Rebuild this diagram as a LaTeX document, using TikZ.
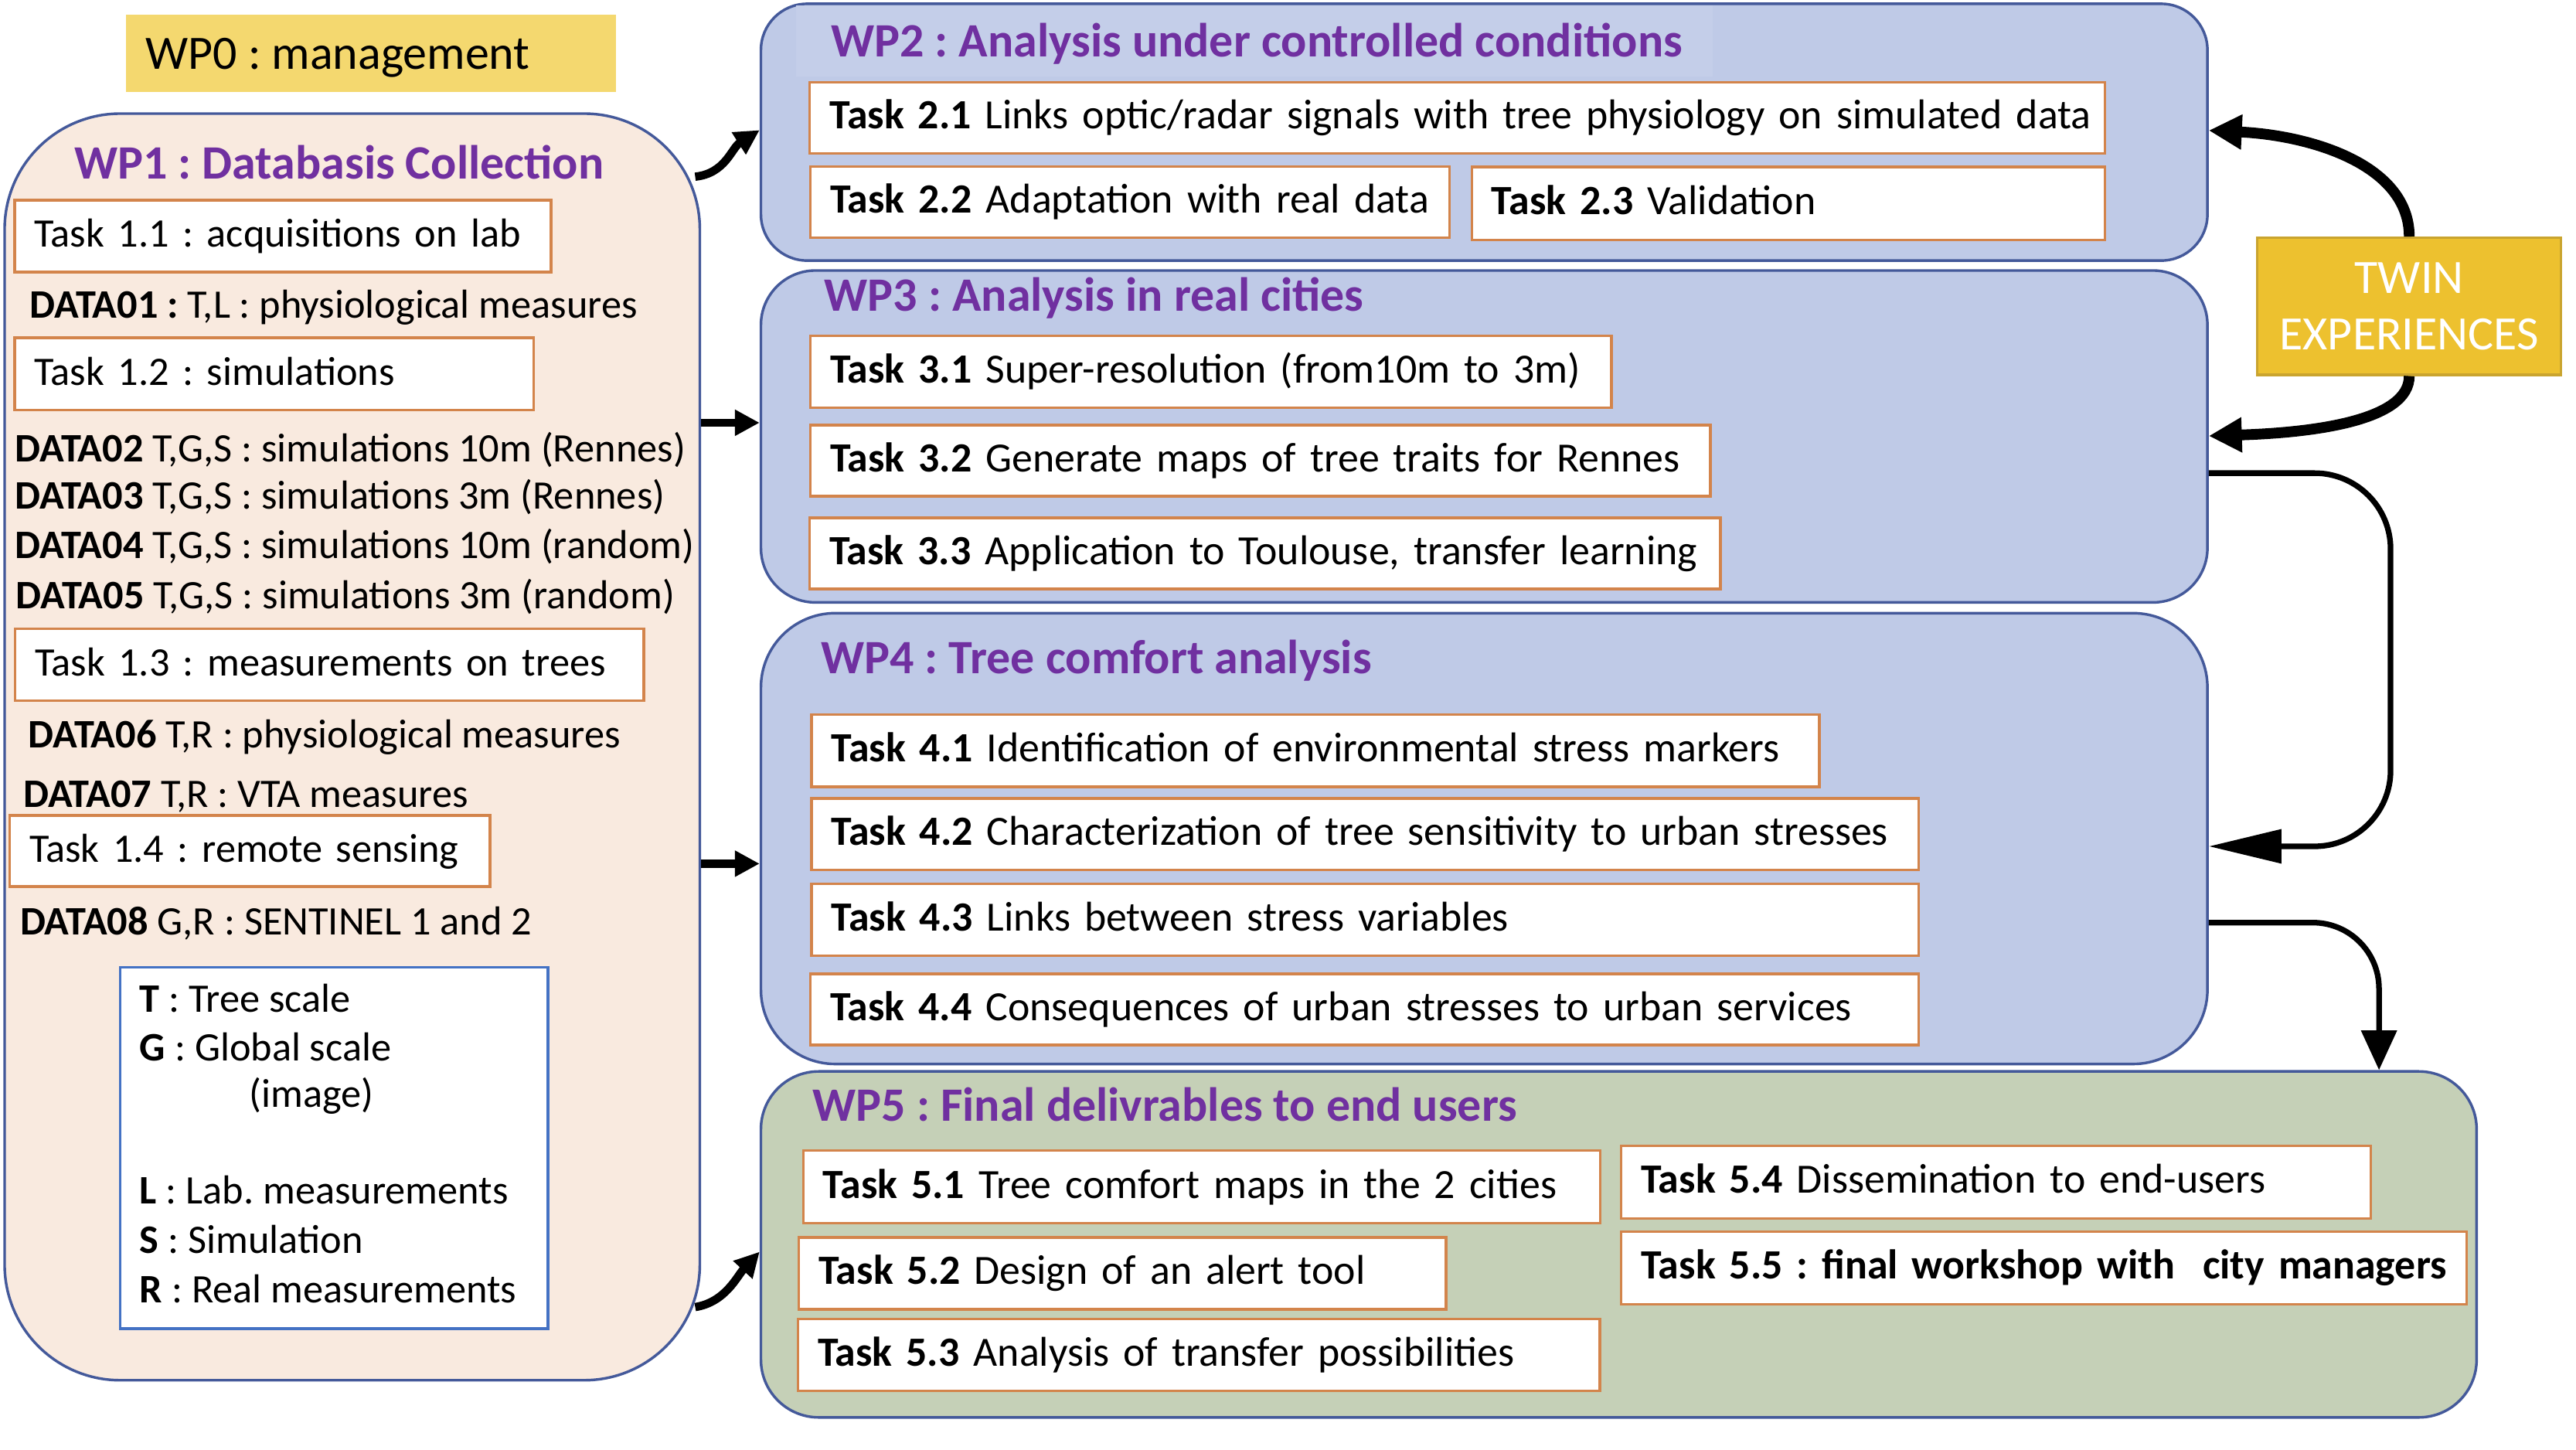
\documentclass[tikz,border=0pt]{standalone}
\usepackage{fontspec}
\setmainfont{Carlito}
\usetikzlibrary{arrows.meta,calc}
\definecolor{wpborder}{HTML}{44599A}
\definecolor{peach}{HTML}{F9EADF}
\definecolor{wpblue}{HTML}{BFCAE7}
\definecolor{wpblueL}{HTML}{C4CEE9}
\definecolor{wpgreen}{HTML}{C5D0B7}
\definecolor{wptitle}{HTML}{7030A0}
\definecolor{taskor}{HTML}{D3844B}
\definecolor{goldA}{HTML}{F4D86F}
\definecolor{goldB}{HTML}{EDC12F}
\definecolor{goldline}{HTML}{C9A42F}
\definecolor{legblue}{HTML}{4472C4}
\newcommand\tfont{\fontsize{24.5pt}{30pt}\selectfont}
\newcommand\ufont{\fontsize{25.2pt}{30pt}\selectfont}
\newcommand\hfont{\fontsize{29pt}{34pt}\selectfont}
\frenchspacing
\begin{document}
\begin{tikzpicture}[x=1pt,y=-1pt,
  wpbox/.style={draw=wpborder, line width=1.6pt, anchor=north west, inner sep=0pt},
  taskbox/.style 2 args={draw=taskor, fill=white, line width=1.6pt, anchor=north west,
     inner xsep=12pt, inner ysep=0pt, align=left, font=\tfont,
     text height=18.5pt, text depth=5pt, text width=#1, minimum height=#2,
     execute at begin node={\hbox\bgroup}, execute at end node={\egroup}},
  taskboxB/.style 2 args={taskbox={#1}{#2}, font=\ufont},
  txt/.style={anchor=base west, inner sep=0pt, font=\tfont},
  ttl/.style={anchor=base west, inner sep=0pt, font=\hfont\bfseries, text=wptitle},
  wparrow/.style={line width=5pt, -{Triangle[length=15pt,width=15pt]}},
  twinarrow/.style={line width=6.5pt, -{Triangle[length=20pt,width=20pt]}},
  flowA/.style={line width=3.4pt, rounded corners=46pt, -{Triangle[length=44pt,width=20pt]}},
  flowB/.style={line width=3.4pt, rounded corners=40pt, -{Triangle[length=24pt,width=21pt]}}
]
\useasboundingbox (0,0) rectangle (1560,877.6);

% ---------- WP0 ----------
\node[fill=goldA, anchor=north west, minimum width=296.6pt, minimum height=46.9pt, inner sep=0pt] (wp0) at (76,8.6) {};
\node[anchor=base west, inner sep=0pt, font=\hfont] (wp0t) at (88,42.1) {WP0 : management};

% ---------- WP boxes ----------
\node[wpbox, fill=peach, rounded corners=70pt, minimum width=421pt, minimum height=767pt] (wp1) at (2,68) {};
\node[wpbox, fill=wpblue, rounded corners=28pt, minimum width=876pt, minimum height=155.5pt] (wp2) at (460,1.5) {};
\node[wpbox, fill=wpblue, rounded corners=33pt, minimum width=876pt, minimum height=201pt] (wp3) at (460,163) {};
\node[wpbox, fill=wpblue, rounded corners=45pt, minimum width=876pt, minimum height=273pt] (wp4) at (460,370.5) {};
\node[wpbox, fill=wpgreen, rounded corners=35pt, minimum width=1039pt, minimum height=209.5pt] (wp5) at (460,648) {};

% ---------- TWIN ----------
\node[draw=goldline, fill=goldB, line width=1.5pt, minimum width=184pt, minimum height=83pt,
      inner sep=0pt, align=center, font=\hfont, text=white] (twin) at (1459,185.5) {TWIN\\EXPERIENCES};

% ---------- titles ----------
\node[ttl] (wp1t) at (44.8,108.4) {WP1 : Databasis Collection};
\node[fill=wpblueL, anchor=north west, minimum width=555pt, minimum height=43pt, inner sep=0pt] (wp2bg) at (482,3) {};
\node[ttl] (wp2t) at (503,34.6) {WP2 : Analysis under controlled conditions};
\node[ttl] (wp3t) at (499,188.6) {WP3 : Analysis in real cities};
\node[ttl] (wp4t) at (497,408) {WP4 : Tree comfort analysis};
\node[ttl] (wp5t) at (492,678.8) {WP5 : Final delivrables to end users};

% ---------- WP1 content ----------
\node[taskbox={301pt}{43.6pt}] (t11) at (8,120.4) {Task 1.1 : acquisitions on lab};
\node[txt] (d01) at (17.9,192.5) {\textbf{DATA01 :} T,L : physiological measures};
\node[taskbox={290.4pt}{43.8pt}] (t12) at (8,203.7) {Task 1.2 : simulations};
\node[txt] (d02) at (9,279.5) {\textbf{DATA02} T,G,S : simulations 10m (Rennes)};
\node[txt] (d03) at (9,308.4) {\textbf{DATA03} T,G,S : simulations 3m (Rennes)};
\node[txt] (d04) at (9,338.3) {\textbf{DATA04} T,G,S : simulations 10m (random)};
\node[txt] (d05) at (9.5,368.6) {\textbf{DATA05} T,G,S : simulations 3m (random)};
\node[taskbox={356.7pt}{43.6pt}] (t13) at (8.3,380) {Task 1.3 : measurements on trees};
\node[txt] (d06) at (17,453) {\textbf{DATA06} T,R : physiological measures};
\node[txt] (d07) at (14,488.7) {\textbf{DATA07} T,R : VTA measures};
\node[taskbox={267pt}{43pt}] (t14) at (5,493) {Task 1.4 : remote sensing};
\node[txt] (d08) at (12,566) {\textbf{DATA08} G,R : SENTINEL 1 and 2};

% legend
\node[draw=legblue, fill=white, line width=1.6pt, anchor=north west, minimum width=259pt, minimum height=218.7pt, inner sep=0pt] (leg) at (72,585) {};
\node[txt] (lgT) at (84.5,613) {\textbf{T} : Tree scale};
\node[txt] (lgG) at (84.5,642.3) {\textbf{G} : Global scale};
\node[txt] (lgI) at (150.7,670.4) {(image)};
\node[txt] (lgL) at (84.5,729.2) {\textbf{L} : Lab. measurements};
\node[txt] (lgS) at (84.5,758.8) {\textbf{S} : Simulation};
\node[txt] (lgR) at (84.5,788.7) {\textbf{R} : Real measurements};

% ---------- WP2 tasks ----------
\node[taskboxB={760.4pt}{43pt}] (t21) at (489.6,49) {\textbf{Task 2.1} Links optic/radar signals with tree physiology on simulated data};
\node[taskboxB={363pt}{43pt}] (t22) at (490,100) {\textbf{Task 2.2} Adaptation with real data};
\node[taskboxB={359.5pt}{44.2pt}] (t23) at (890.5,100.3) {\textbf{Task 2.3} Validation};

% ---------- WP3 tasks ----------
\node[taskboxB={461pt}{43.5pt}] (t31) at (490,202.5) {\textbf{Task 3.1} Super-resolution (from10m to 3m)};
\node[taskboxB={521pt}{43pt}] (t32) at (490,256.7) {\textbf{Task 3.2} Generate maps of tree traits for Rennes};
\node[taskboxB={527.5pt}{43pt}] (t33) at (489.5,312.8) {\textbf{Task 3.3} Application to Toulouse, transfer learning};

% ---------- WP4 tasks ----------
\node[taskboxB={586.4pt}{43.6pt}] (t41) at (490.6,432) {\textbf{Task 4.1} Identification of environmental stress markers};
\node[taskboxB={646.4pt}{43.3pt}] (t42) at (490.6,482.7) {\textbf{Task 4.2} Characterization of tree sensitivity to urban stresses};
\node[taskboxB={646.4pt}{43.6pt}] (t43) at (490.6,534.4) {\textbf{Task 4.3} Links between stress variables};
\node[taskboxB={647pt}{43pt}] (t44) at (490,589) {\textbf{Task 4.4} Consequences of urban stresses to urban services};

% ---------- WP5 tasks ----------
\node[taskboxB={458.7pt}{44pt}] (t51) at (485.6,696) {\textbf{Task 5.1} Tree comfort maps in the 2 cities};
\node[taskboxB={368pt}{43.5pt}] (t52) at (483,748.5) {\textbf{Task 5.2} Design of an alert tool};
\node[taskboxB={461.5pt}{43.5pt}] (t53) at (482.5,798) {\textbf{Task 5.3} Analysis of transfer possibilities};
\node[taskboxB={430pt}{44pt}] (t54) at (981,693) {\textbf{Task 5.4} Dissemination to end-users};
\node[taskboxB={488pt}{44pt}] (t55) at (981,745) {\textbf{Task 5.5 : final workshop with\ \ city managers}};

% ---------- connectors ----------
\draw[wparrow] ($(wp1.east |- 0,107)+(-3.6,0)$) .. controls (439.4,105) and (442.9,89.7) .. (wp2.west |- 0,78.8);
\draw[wparrow] (wp1.east |- 0,256) -- (wp3.west |- 0,256);
\draw[wparrow] (wp1.east |- 0,523) -- (wp4.west |- 0,523);
\draw[wparrow] ($(wp1.east |- 0,791.5)+(-3.6,0)$) .. controls (439.4,788.5) and (446.3,772.8) .. (wp5.west |- 0,758);

\draw[twinarrow] (twin.north) .. controls (1459,100) and (1400,82) .. (wp2.east |- 0,79);
\draw[twinarrow] (twin.south) .. controls (1459,255) and (1400,262) .. (wp3.east |- 0,264);

\draw[flowA] (wp3.east |- 0,286.5) -- (1447.7,286.5) -- (1447.7,512.5) -- (wp4.east |- 0,512.5);
\draw[flowB] (wp4.east |- 0,558.7) -- (1440.7,558.7) -- (wp5.north -| 1440.7,0);
\end{tikzpicture}
\end{document}
